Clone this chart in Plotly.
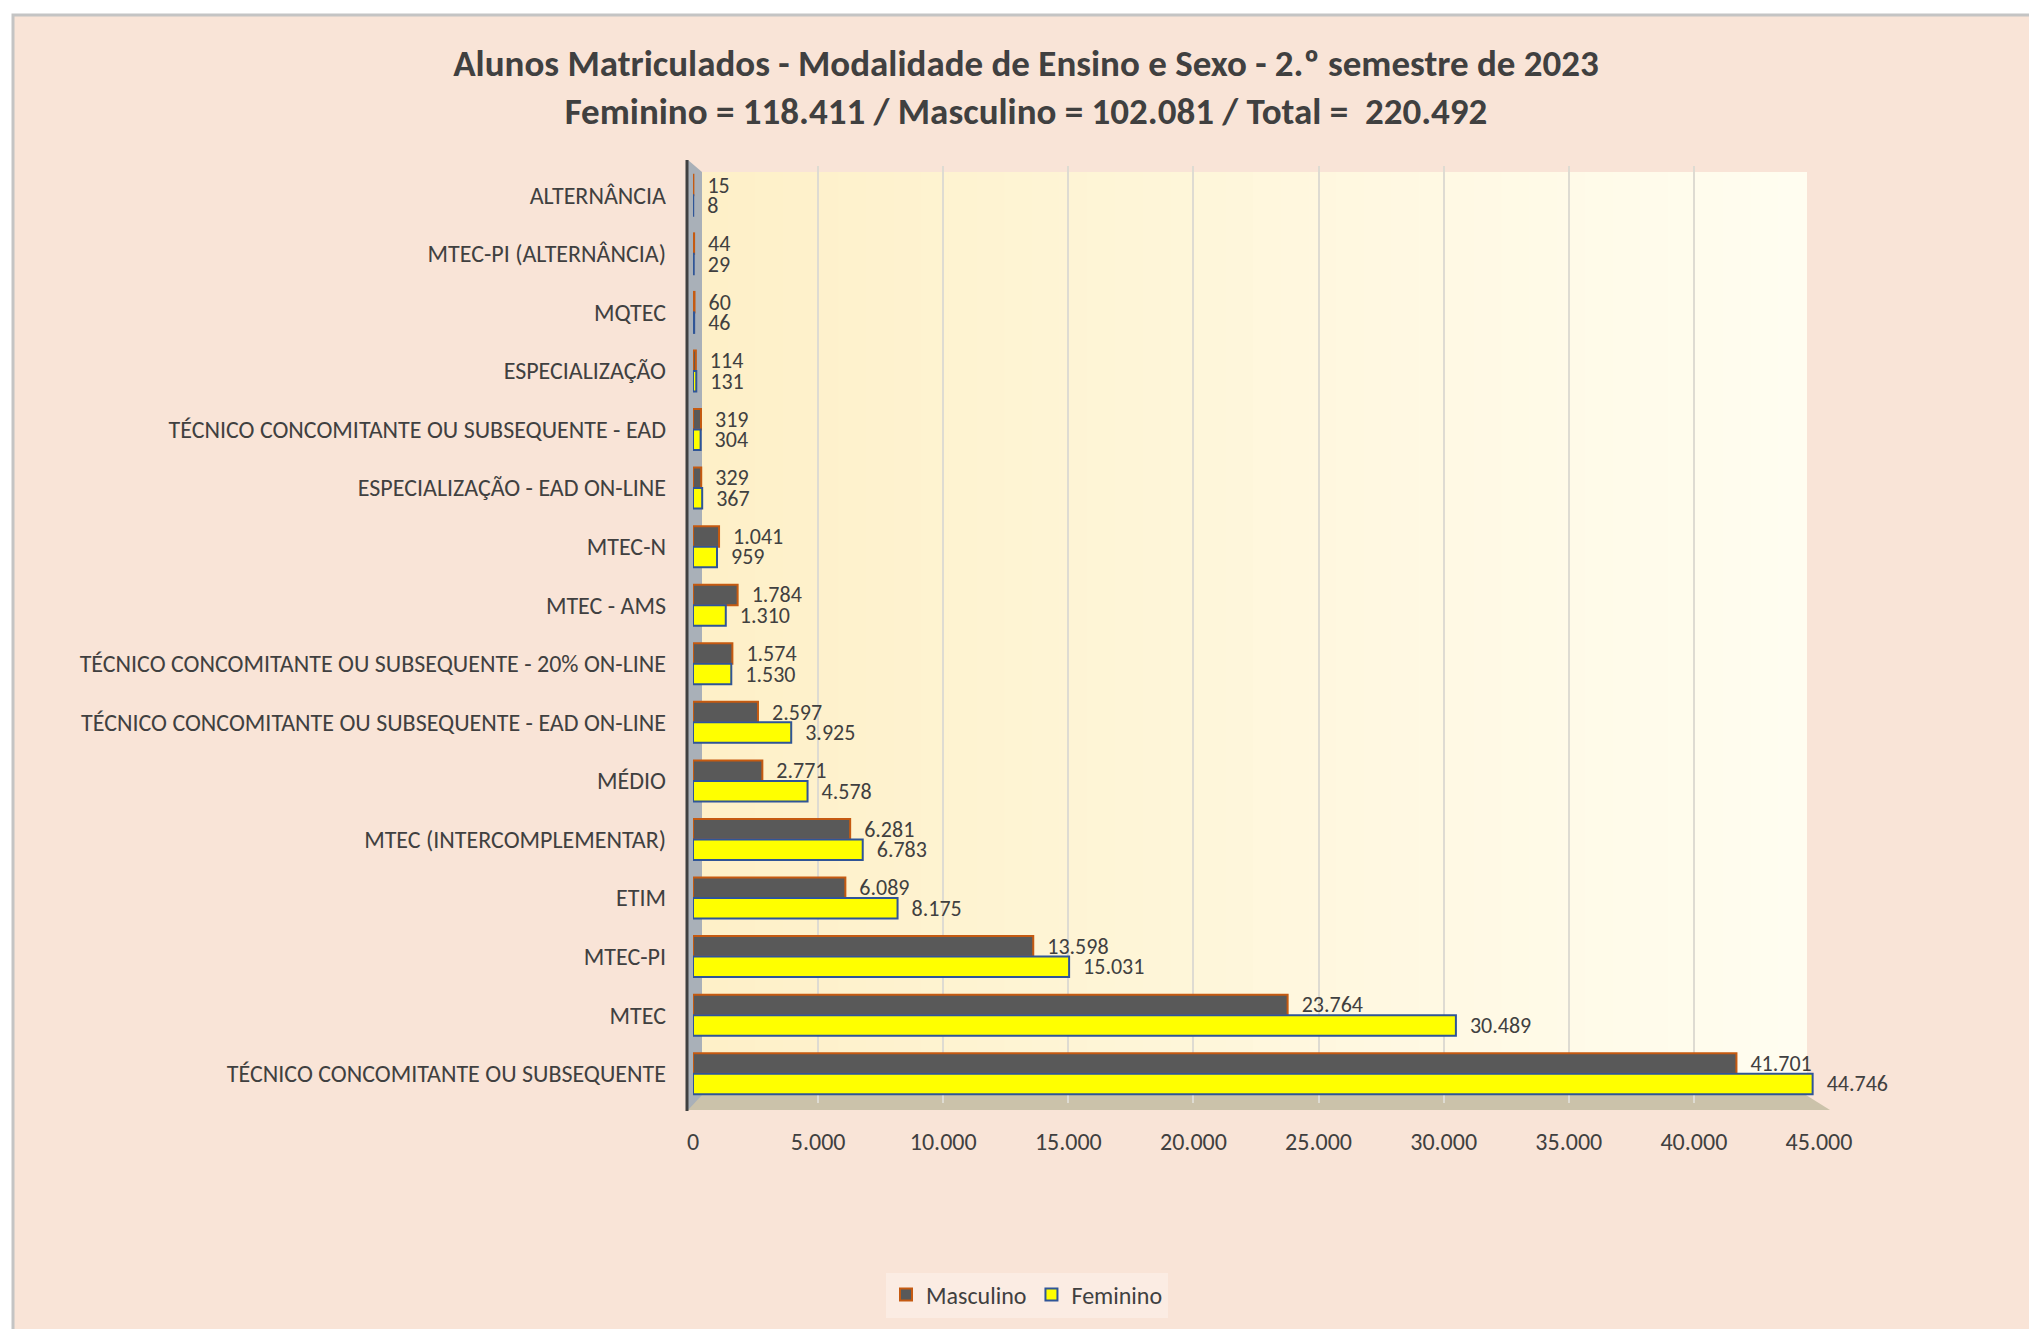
import plotly.graph_objects as go

categories = [
    "ALTERNÂNCIA",
    "MTEC-PI (ALTERNÂNCIA)",
    "MQTEC",
    "ESPECIALIZAÇÃO",
    "TÉCNICO CONCOMITANTE OU SUBSEQUENTE - EAD",
    "ESPECIALIZAÇÃO - EAD ON-LINE",
    "MTEC-N",
    "MTEC - AMS",
    "TÉCNICO CONCOMITANTE OU SUBSEQUENTE - 20% ON-LINE",
    "TÉCNICO CONCOMITANTE OU SUBSEQUENTE - EAD ON-LINE",
    "MÉDIO",
    "MTEC (INTERCOMPLEMENTAR)",
    "ETIM",
    "MTEC-PI",
    "MTEC",
    "TÉCNICO CONCOMITANTE OU SUBSEQUENTE",
]
masculino = [15, 44, 60, 114, 319, 329, 1041, 1784, 1574, 2597, 2771, 6281, 6089, 13598, 23764, 41701]
feminino = [8, 29, 46, 131, 304, 367, 959, 1310, 1530, 3925, 4578, 6783, 8175, 15031, 30489, 44746]
x_ticks = [0, 5000, 10000, 15000, 20000, 25000, 30000, 35000, 40000, 45000]

title_line1 = "Alunos Matriculados - Modalidade de Ensino e Sexo - 2.º semestre de 2023"
title_line2 = "Feminino = 118.411 / Masculino = 102.081 / Total =  220.492"

W_PX, H_PX = 2029, 1329
L, R = 693, 1819
T, B = 166, 1103
PW, PH = R - L, B - T


def px(xp):
    return (xp - L) / PW


def py(yp):
    return (B - yp) / PH


FONT = "Calibri, Carlito, Lato, sans-serif"
TXT = "#404040"

fig = go.Figure()
fig.add_trace(go.Bar(
    name="Masculino", y=categories, x=masculino, orientation="h",
    marker=dict(color="#595959", line=dict(color="#C55A11", width=2)),
    texttemplate="\u2002%{x:,d}", textposition="outside", cliponaxis=False,
    constraintext="none",
    textfont=dict(size=22, color=TXT, family=FONT),
))
fig.add_trace(go.Bar(
    name="Feminino", y=categories, x=feminino, orientation="h",
    marker=dict(color="#FFFF00", line=dict(color="#2F5597", width=2)),
    texttemplate="\u2002%{x:,d}", textposition="outside", cliponaxis=False,
    constraintext="none",
    textfont=dict(size=22, color=TXT, family=FONT),
))

shapes = []
# chart area background with border
shapes.append(dict(type="rect", xref="paper", yref="paper", layer="below",
                   x0=px(13), x1=px(2100), y0=py(15), y1=py(1400),
                   fillcolor="#F9E4D7", line=dict(color="#C4C4C4", width=3)))
# plot back wall gradient (left warm yellow -> right near white)
n = 40
x_left, x_right = 700, 1806
c0 = (254, 240, 200)
c1 = (255, 253, 240)
for i in range(n):
    t = i / (n - 1)
    col = tuple(round(c0[k] + (c1[k] - c0[k]) * t) for k in range(3))
    xa = x_left + (x_right - x_left) * i / n
    xb = x_left + (x_right - x_left) * (i + 1) / n + 1
    shapes.append(dict(type="rect", xref="paper", yref="paper", layer="below",
                       x0=px(xa), x1=px(xb), y0=py(172), y1=py(1095),
                       fillcolor="rgb(%d,%d,%d)" % col, line=dict(width=0)))
# floor
shapes.append(dict(type="path", xref="paper", yref="paper", layer="below",
                   path="M %f,%f L %f,%f L %f,%f L %f,%f Z" % (
                       px(688), py(1095), px(1806), py(1095), px(1830), py(1110), px(688), py(1110)),
                   fillcolor="#CBC2AA", line=dict(width=0)))
# left wall
shapes.append(dict(type="path", xref="paper", yref="paper", layer="below",
                   path="M %f,%f L %f,%f L %f,%f L %f,%f Z" % (
                       px(688), py(160), px(702), py(172), px(702), py(1095), px(688), py(1110)),
                   fillcolor="#A9B0B8", line=dict(width=0)))
# axis line
shapes.append(dict(type="line", xref="paper", yref="paper", layer="above",
                   x0=px(687), x1=px(687), y0=py(160), y1=py(1111),
                   line=dict(color="#404040", width=3)))

fig.update_layout(
    width=W_PX, height=H_PX,
    margin=dict(l=L, r=W_PX - R, t=T, b=H_PX - B, autoexpand=False),
    paper_bgcolor="white", plot_bgcolor="rgba(0,0,0,0)",
    separators=",.",
    barmode="group", bargap=0.3, bargroupgap=0.0,
    font=dict(family=FONT, color=TXT, size=24),
    title=dict(
        text=title_line1 + "<br>" + title_line2,
        x=px(1026), xref="paper", xanchor="center",
        y=1 - 76 / H_PX, yanchor="middle",
        font=dict(family=FONT, size=37, color=TXT, weight="bold"),
    ),
    xaxis=dict(range=[0, 45000], tickvals=x_ticks, tickformat=",d",
               showgrid=True, gridcolor="#DEDBD2", gridwidth=2,
               zeroline=False, showline=False, ticks="",
               ticklabelstandoff=22,
               tickfont=dict(size=24, color=TXT, family=FONT)),
    yaxis=dict(autorange="reversed", showgrid=False, zeroline=False, showline=False,
               ticks="", ticklabelstandoff=26,
               tickfont=dict(size=24, color=TXT, family=FONT)),
    legend=dict(orientation="h", x=px(1027), xanchor="center", y=py(1295), yanchor="middle",
                bgcolor="rgba(255,255,255,0.3)", font=dict(size=24, color=TXT, family=FONT)),
    shapes=shapes,
)

fig.write_html(
    "out.html",
    config={"displayModeBar": False},
    post_script="document.body.style.margin='0';document.body.style.overflow='hidden';",
)
